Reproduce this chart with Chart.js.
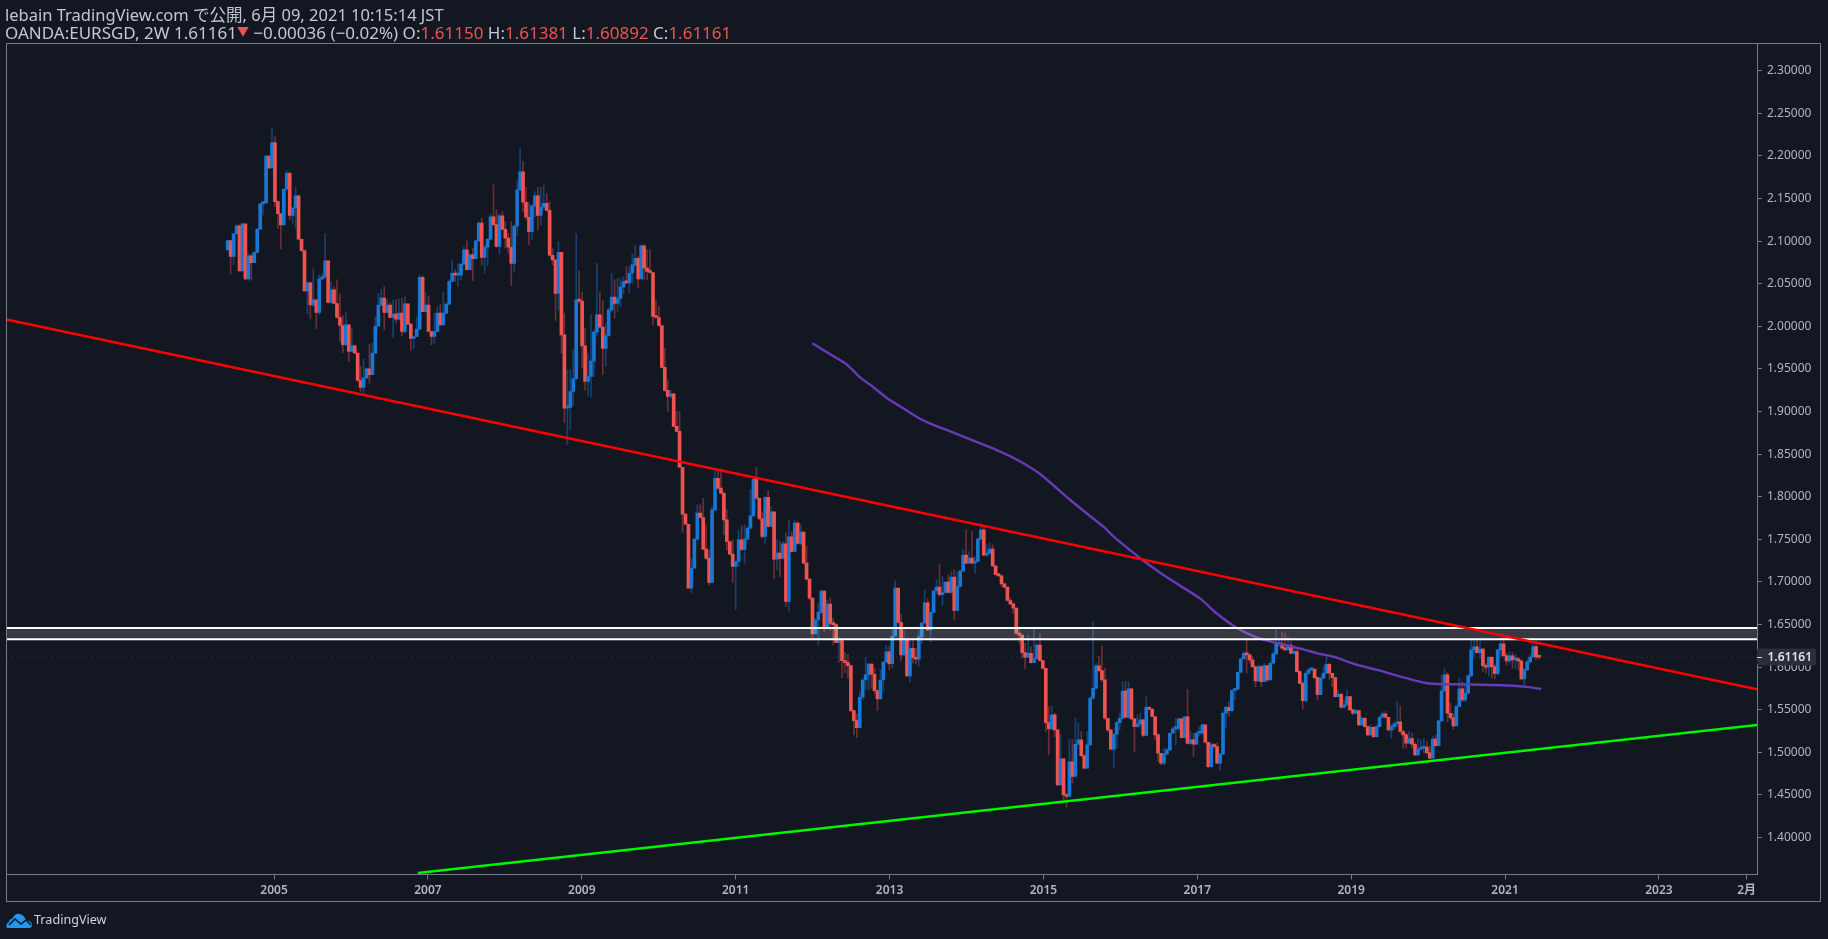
<!DOCTYPE html>
<html>
<head>
<meta charset="utf-8">
<title>EURSGD</title>
<script src="https://cdn.jsdelivr.net/npm/chart.js@4/dist/chart.umd.min.js"></script>
<style>
html, body { margin: 0; padding: 0; background: #131722; overflow: hidden; }
#wrap { position: relative; width: 1828px; height: 939px; font-family: "Noto Sans", "Noto Sans CJK JP", sans-serif; }
canvas { position: absolute; left: 0; top: 0; }
.head { position: absolute; left: 5px; color: #c4c7cf; line-height: 18px; white-space: nowrap; }
.head .r { color: #ef5350; }
.head .tri { color: #ef5350; font-size: 12px; vertical-align: 3px; }
#logo { position: absolute; left: 6px; top: 912px; }
#brand { position: absolute; left: 34px; top: 910px; color: #d1d4dc; font-size: 12.6px; line-height: 20px; }
</style>
</head>
<body>
<div id="wrap">
  <canvas id="fxChart" width="1828" height="939"></canvas>
  <div class="head" style="top:6px;font-size:16.5px">lebain TradingView.com で公開, 6月 09, 2021 10:15:14 JST</div>
  <div class="head" style="top:23px;font-size:17px">OANDA:EURSGD, 2W 1.61161<span class="tri">▼</span> −0.00036 (−0.02%) O:<span class="r">1.61150</span> H:<span class="r">1.61381</span> L:<span class="r">1.60892</span> C:<span class="r">1.61161</span></div>
  <svg id="logo" width="27" height="17" viewBox="0 0 27 17">
    <path d="M1 16 Q-1 12 3 10 Q3 7 6 7 Q9 1 14 2 Q18 3 20 8 Q26 9 26 13 Q26 16 23 16 Z" fill="#2196f3"/>
    <path d="M3 13 L9 7 L15 12 L20 8 L25 13" fill="none" stroke="#131722" stroke-width="1.6"/>
  </svg>
  <div id="brand">TradingView</div>
</div>
<script>
const firstOpen = 2.0897;
const firstYear = 2004.398;
const barsPerYear = 26.05;

const closes = [
  2.1006,2.0819,2.1084,2.1178,2.0651,2.1202,2.0557,2.0826,2.0748,2.0866,
  2.1139,2.1436,2.1452,2.1999,2.1859,2.2156,2.1464,2.1323,2.1190,2.1608,
  2.1796,2.1300,2.1386,2.1530,2.1022,2.0889,2.0416,2.0510,2.0252,2.0310,
  2.0162,2.0557,2.0576,2.0768,2.0279,2.0428,2.0267,2.0103,2.0009,1.9783,
  2.0017,1.9704,1.9771,1.9685,1.9364,1.9282,1.9391,1.9501,1.9431,1.9685,
  2.0000,2.0248,2.0330,2.0162,2.0248,2.0103,2.0142,2.0084,2.0154,1.9939,
  2.0263,2.0025,1.9857,1.9880,1.9966,2.0576,2.0173,2.0248,1.9939,1.9880,
  1.9939,2.0154,2.0017,2.0154,2.0260,2.0529,2.0623,2.0600,2.0600,
  2.0729,2.0897,2.0666,2.0838,2.0795,2.1002,2.1210,2.0807,2.0928,2.1022,
  2.1284,2.1194,2.0936,2.1296,2.1139,2.1034,2.0928,2.0737,2.1174,2.1601,
  2.1812,2.1456,2.1280,2.1112,2.1413,2.1530,2.1300,2.1397,2.1444,2.1362,
  2.0834,2.0779,2.0385,2.0869,1.9900,1.9040,1.9047,1.9235,1.9384,2.0310,
  2.0295,1.9771,1.9352,1.9411,1.9591,1.9931,2.0134,1.9990,1.9740,1.9892,
  2.0193,2.0342,2.0267,2.0326,2.0459,2.0521,2.0510,2.0623,2.0721,2.0799,
  2.0557,2.0944,2.0682,2.0643,2.0631,2.0115,2.0103,2.0009,1.9517,1.9247,
  1.9176,1.9208,1.8825,1.8766,1.8346,1.7795,1.7677,1.6927,1.7161,1.7502,1.7807,
  1.7756,1.7384,1.7279,1.6993,1.7846,1.8217,1.8100,1.8041,1.7728,1.7474,
  1.7326,1.7181,1.7240,1.7494,1.7380,1.7502,1.7631,1.7775,1.8205,1.7982,
  1.7744,1.7533,1.7994,1.7650,1.7822,1.7267,1.7337,1.7275,1.7447,1.6770,
  1.7529,1.7357,1.7689,1.7451,1.7584,1.7220,1.7032,1.6810,1.6389,1.6553,
  1.6643,1.6893,1.6475,1.6741,1.6514,1.6498,1.6287,1.6311,1.6076,1.6053,
  1.6017,1.5490,1.5372,1.5290,1.5646,1.5849,1.5908,1.6037,1.5916,1.5724,
  1.5627,1.5849,1.6060,1.6178,1.6041,1.6365,1.6928,1.6526,1.6143,1.6319,
  1.5896,1.6221,1.6111,1.6092,1.6354,1.6518,1.6753,1.6436,1.6643,1.6893,
  1.6938,1.6849,1.6876,1.6997,1.6876,1.7056,1.6665,1.6946,1.7126,1.7314,
  1.7220,1.7279,1.7220,1.7240,1.7502,1.7611,1.7314,1.7337,1.7384,1.7189,
  1.7087,1.7071,1.6977,1.6938,1.6782,1.6743,1.6692,1.6397,1.6377,1.6170,
  1.6116,1.6162,1.6053,1.6100,1.6260,1.6077,1.5986,1.5349,1.5275,1.5439,
  1.5263,1.4618,1.4923,1.4501,1.4481,1.4888,1.4716,1.5095,1.5146,1.4962,
  1.4813,1.5087,1.5635,1.5752,1.6014,1.5959,1.5850,1.5400,1.5263,1.5036,
  1.5212,1.5349,1.5400,1.5720,1.5412,1.5744,1.5392,1.5302,1.5334,1.5380,
  1.5197,1.5529,1.5505,1.5420,1.5205,1.4989,1.4872,1.4982,1.5029,1.5224,
  1.5275,1.5279,1.5392,1.5173,1.5416,1.5103,1.5146,1.5095,1.5224,1.5224,
  1.5322,1.5118,1.4833,1.5087,1.5068,1.4872,1.4982,1.5459,1.5529,1.5490,
  1.5725,1.5740,1.5940,1.6096,1.6162,1.6143,1.6084,1.6006,1.5838,1.6006,
  1.5830,1.6018,1.5850,1.6045,1.6155,1.6268,1.6276,1.6221,1.6202,1.6260,
  1.6162,1.6182,1.5947,1.5810,1.5607,1.5928,1.5967,1.5975,1.5877,1.5678,
  1.5869,1.5928,1.6033,1.5928,1.5877,1.5654,1.5681,1.5529,1.5556,1.5654,
  1.5498,1.5459,1.5490,1.5322,1.5400,1.5302,1.5205,1.5294,1.5185,1.5302,
  1.5412,1.5451,1.5412,1.5263,1.5302,1.5334,1.5357,1.5244,1.5205,1.5107,
  1.5161,1.5095,1.4970,1.5036,1.5048,1.5060,1.4997,1.4931,1.5154,1.5079,
  1.5369,1.5721,1.5908,1.5459,1.5408,1.5310,1.5537,1.5744,1.5615,1.5693,
  1.5897,1.6202,1.6237,1.6170,1.6213,1.6018,1.5998,1.6116,1.6006,1.5924,
  1.6202,1.6272,1.6135,1.6073,1.6131,1.6084,1.6092,1.6073,1.5861,1.5967,
  1.6061,1.6119,1.6241,1.6120,1.6116
];

const highs = [
  2.1006,2.1006,2.1084,2.1190,2.1190,2.1202,2.1202,2.0850,2.0850,2.0877,
  2.1151,2.1444,2.1464,2.2007,2.1999,2.2336,2.2234,2.1476,2.1327,2.1616,
  2.1827,2.1816,2.1397,2.1632,2.1530,2.1022,2.0897,2.0518,2.0518,2.0674,
  2.0310,2.0604,2.0623,2.1092,2.0768,2.0525,2.0467,2.0545,2.0377,2.0123,
  2.0174,2.0017,1.9978,1.9782,1.9685,1.9528,1.9614,1.9509,1.9790,1.9802,
  2.0107,2.0388,2.0439,2.0467,2.0310,2.0271,2.0310,2.0310,2.0322,2.0330,
  2.0349,2.0263,2.0037,1.9880,2.0107,2.0604,2.0596,2.0400,2.0357,1.9939,
  2.0154,2.0232,2.0252,2.0400,2.0271,2.0545,2.0780,2.0662,2.0733,
  2.0729,2.0936,2.1006,2.0850,2.0916,2.1014,2.1229,2.1268,2.0955,2.1034,
  2.1319,2.1659,2.1366,2.1319,2.1346,2.1229,2.1092,2.1229,2.1190,2.1706,
  2.2082,2.1933,2.1632,2.1452,2.1425,2.1581,2.1632,2.1632,2.1659,2.1561,
  2.1464,2.0916,2.0779,2.0995,2.0869,2.0154,1.9489,1.9489,1.9724,2.1085,
  2.0650,2.0400,1.9978,1.9685,2.0134,1.9958,2.0740,2.0408,2.0299,2.0037,
  2.0213,2.0623,2.0545,2.0564,2.0564,2.0584,2.0701,2.0701,2.0850,2.0955,
  2.0819,2.0955,2.0955,2.0897,2.0897,2.0631,2.0310,2.0232,2.0009,1.9743,
  1.9372,1.9255,1.9208,1.9001,1.8999,1.8346,1.7799,1.7677,1.7279,1.7513,1.7904,
  1.7904,1.7982,1.7670,1.7376,1.7885,1.8323,1.8315,1.8323,1.8061,1.7846,
  1.7474,1.7494,1.7240,1.7611,1.7658,1.7670,1.7650,1.8088,1.8217,1.8346,
  1.7982,1.7826,1.8002,1.8072,1.7885,1.7822,1.7494,1.7474,1.7474,1.7580,
  1.7728,1.7591,1.7728,1.7709,1.7670,1.7584,1.7416,1.7032,1.6810,1.6573,
  1.6749,1.6905,1.6893,1.6788,1.6819,1.6573,1.6514,1.6319,1.6311,1.6174,
  1.6150,1.6025,1.5497,1.5450,1.5712,1.5869,1.6115,1.6045,1.6037,1.5986,
  1.5732,1.5967,1.6064,1.6260,1.6248,1.6444,1.7013,1.6928,1.6623,1.6436,
  1.6319,1.6319,1.6311,1.6221,1.6428,1.6526,1.6905,1.6800,1.6651,1.6905,
  1.7020,1.7212,1.7063,1.7005,1.7083,1.7122,1.7142,1.7122,1.7142,1.7376,
  1.7611,1.7357,1.7592,1.7298,1.7513,1.7681,1.7650,1.7435,1.7455,1.7435,
  1.7189,1.7103,1.7083,1.6986,1.6938,1.6810,1.6751,1.6692,1.6456,1.6377,
  1.6280,1.6377,1.6241,1.6444,1.6280,1.6397,1.6077,1.5986,1.5537,1.5545,
  1.5459,1.5263,1.5204,1.4923,1.4520,1.5154,1.5146,1.5400,1.5349,1.5244,
  1.4970,1.5244,1.5654,1.6534,1.6045,1.6123,1.6248,1.5986,1.5400,1.5263,
  1.5224,1.5361,1.5459,1.5830,1.5830,1.5830,1.5744,1.5400,1.5439,1.5459,
  1.5380,1.5654,1.5537,1.5517,1.5420,1.5224,1.4989,1.5048,1.5048,1.5232,
  1.5302,1.5400,1.5400,1.5400,1.5420,1.5732,1.5244,1.5224,1.5244,1.5302,
  1.5334,1.5322,1.5118,1.5107,1.5107,1.5107,1.4989,1.5478,1.5545,1.5595,
  1.5732,1.5752,1.5947,1.6104,1.6182,1.6319,1.6162,1.6123,1.6006,1.6026,
  1.6018,1.6045,1.6018,1.6065,1.6170,1.6444,1.6319,1.6417,1.6397,1.6358,
  1.6299,1.6241,1.6202,1.5959,1.5830,1.5947,1.5986,1.5994,1.5986,1.5889,
  1.5889,1.6006,1.6123,1.6045,1.5928,1.5877,1.5732,1.5693,1.5615,1.5732,
  1.5654,1.5505,1.5505,1.5490,1.5420,1.5412,1.5310,1.5322,1.5302,1.5322,
  1.5428,1.5478,1.5478,1.5412,1.5322,1.5361,1.5595,1.5545,1.5263,1.5224,
  1.5244,1.5224,1.5114,1.5165,1.5146,1.5165,1.5126,1.5068,1.5185,1.5204,
  1.5380,1.5908,1.5979,1.5936,1.5576,1.5459,1.5556,1.5869,1.5830,1.5811,
  1.5908,1.6311,1.6319,1.6319,1.6311,1.6221,1.6045,1.6123,1.6123,1.6026,
  1.6209,1.6299,1.6346,1.6162,1.6182,1.6170,1.6143,1.6115,1.6084,1.5986,
  1.6084,1.6143,1.6299,1.6299,1.6138
];

const lows = [
  2.0897,2.0615,2.0721,2.1084,2.0651,2.0651,2.0545,2.0537,2.0545,2.0780,
  2.0858,2.1139,2.1307,2.1436,2.1851,2.1855,2.1405,2.1151,2.0908,2.1190,
  2.1601,2.1249,2.1210,2.1151,2.1014,2.0877,2.0408,2.0146,2.0087,2.0232,
  1.9974,2.0134,2.0545,2.0564,2.0271,2.0271,2.0260,2.0095,1.9822,1.9693,
  1.9775,1.9587,1.9696,1.9685,1.9352,1.9235,1.9196,1.9391,1.9333,1.9431,
  1.9685,2.0000,2.0232,1.9958,2.0154,2.0095,1.9868,2.0037,2.0076,1.9888,
  1.9919,2.0017,1.9716,1.9739,1.9880,1.9958,2.0173,2.0162,1.9939,1.9782,
  1.9794,1.9939,2.0005,2.0017,2.0146,2.0252,2.0521,2.0525,2.0467,
  2.0545,2.0721,2.0662,2.0662,2.0537,2.0791,2.0995,2.0721,2.0623,2.0709,
  2.1014,2.1186,2.0928,2.0850,2.1131,2.0916,2.0858,2.0478,2.0643,2.1065,
  2.1601,2.1346,2.1249,2.0955,2.1022,2.1288,2.1131,2.1190,2.1366,2.1346,
  2.0819,2.0721,2.0068,2.0193,1.9685,1.8871,1.8610,1.8785,1.9067,1.9372,
  2.0271,1.9509,1.9247,1.9184,1.9169,1.9411,1.9880,1.9978,1.9431,1.9528,
  1.9880,2.0173,2.0095,2.0173,2.0232,2.0381,2.0506,2.0389,2.0506,2.0701,
  2.0447,2.0553,2.0545,2.0545,2.0623,2.0017,2.0095,1.9998,1.9509,1.9235,
  1.9001,1.9157,1.8825,1.8766,1.8346,1.7580,1.7674,1.6927,1.6868,1.7161,1.7494,
  1.7748,1.7376,1.7259,1.6966,1.6985,1.7838,1.8088,1.8033,1.7552,1.7376,
  1.7318,1.6993,1.6673,1.7181,1.7368,1.7220,1.7494,1.7619,1.7767,1.7971,
  1.7728,1.7513,1.7455,1.7642,1.7650,1.7036,1.7142,1.7064,1.7267,1.6712,
  1.6653,1.7345,1.7357,1.7443,1.7435,1.7208,1.7025,1.6790,1.6338,1.6389,
  1.6260,1.6631,1.6416,1.6467,1.6428,1.6260,1.6287,1.6053,1.5877,1.5935,
  1.5869,1.5478,1.5204,1.5173,1.5282,1.5615,1.5732,1.5732,1.5752,1.5685,
  1.5490,1.5623,1.5720,1.6053,1.5967,1.5986,1.6358,1.6514,1.6072,1.6131,
  1.5888,1.5830,1.6045,1.6037,1.6014,1.6272,1.6514,1.6428,1.6299,1.6639,
  1.6868,1.6829,1.6720,1.6868,1.6868,1.6868,1.6555,1.6653,1.6938,1.7122,
  1.7212,1.7220,1.7212,1.7103,1.7240,1.7494,1.7306,1.7306,1.7329,1.7181,
  1.7079,1.7063,1.6946,1.6927,1.6770,1.6730,1.6634,1.6377,1.6280,1.6104,
  1.5986,1.6116,1.6045,1.6053,1.6092,1.6069,1.5975,1.5244,1.4970,1.5271,
  1.5185,1.4610,1.4618,1.4442,1.4356,1.4481,1.4637,1.4704,1.5087,1.4950,
  1.4806,1.4813,1.5079,1.5623,1.5744,1.5947,1.5830,1.5380,1.5244,1.5029,
  1.4814,1.5048,1.5263,1.5388,1.5400,1.5400,1.5380,1.5009,1.5294,1.5302,
  1.5185,1.5193,1.5498,1.5412,1.5146,1.4892,1.4853,1.4853,1.4970,1.5021,
  1.5224,1.5087,1.5255,1.5165,1.5165,1.5095,1.5095,1.4950,1.5095,1.5193,
  1.5216,1.5107,1.4821,1.4821,1.5048,1.4864,1.4794,1.4970,1.5283,1.5420,
  1.5478,1.5615,1.5732,1.5928,1.6092,1.5928,1.6045,1.5994,1.5771,1.5830,
  1.5771,1.5830,1.5830,1.5850,1.6037,1.6143,1.6240,1.6202,1.6194,1.6202,
  1.6155,1.6155,1.5939,1.5803,1.5505,1.5595,1.5920,1.5959,1.5865,1.5615,
  1.5674,1.5861,1.5920,1.5857,1.5771,1.5646,1.5646,1.5517,1.5517,1.5549,
  1.5490,1.5439,1.5451,1.5310,1.5318,1.5294,1.5193,1.5197,1.5173,1.5177,
  1.5294,1.5404,1.5400,1.5255,1.5165,1.5263,1.5302,1.5224,1.5048,1.5048,
  1.5099,1.5048,1.4962,1.4962,1.5029,1.4990,1.4982,1.4919,1.4931,1.5068,
  1.5075,1.5361,1.5713,1.5361,1.5380,1.5271,1.5310,1.5537,1.5595,1.5595,
  1.5685,1.5889,1.6104,1.6163,1.6104,1.5947,1.5928,1.5897,1.5869,1.5861,
  1.5908,1.6123,1.6123,1.6026,1.6045,1.5986,1.5986,1.5967,1.5850,1.5764,
  1.5959,1.6045,1.6116,1.6084,1.6089
];

const maYears = [
  2011.996,2012.23,2012.425,2012.51,2012.62,2012.79,2012.97,2013.14,2013.36,2013.57,
  2013.83,2014.09,2014.44,2014.70,2014.96,2015.35,2015.59,2015.78,2015.94,2016.125,
  2016.30,2016.645,2017.035,2017.25,2017.51,2017.77,2018.075,2018.38,2018.56,2018.77,
  2019.08,2019.34,2019.64,2019.99,2020.25,2020.42,2020.94,2021.25,2021.47
];
const maValues = [
  1.9801,1.9672,1.9566,1.9496,1.9398,1.9285,1.9155,1.9058,1.8933,1.8843,
  1.8753,1.8659,1.8530,1.8413,1.8264,1.7961,1.7785,1.7648,1.7511,1.7374,
  1.7249,1.7030,1.6807,1.6632,1.6463,1.6350,1.6272,1.6209,1.6162,1.6123,
  1.6026,1.5967,1.5889,1.5810,1.5799,1.5799,1.5787,1.5771,1.5744
];

const xMin = 2001.523;
const xMax = 2024.275;
const yMin = 1.3566;
const yMax = 2.3319;

const redTrend = [2.008, 1.574];
const greenTrend = [1.3583, 1.532];
const greenStart = 2006.87;
const zoneTop = 1.6459;
const zoneBottom = 1.6327;
const lastPrice = 1.61161;

const priceTicks = [1.40,1.45,1.50,1.55,1.60,1.65,1.70,1.75,1.80,1.85,1.90,1.95,2.00,2.05,2.10,2.15,2.20,2.25,2.30];
const yearTicks = [2005,2007,2009,2011,2013,2015,2017,2019,2021,2023,2024.14];
const yearLabels = ['2005','2007','2009','2011','2013','2015','2017','2019','2021','2023','2月'];

const UP = '#1976d2', DOWN = '#ef5350';
const UP_WICK = 'rgba(25,118,210,0.45)', DOWN_WICK = 'rgba(239,83,80,0.4)';
const AXIS = '#787b86', LABEL = '#b2b5be';
const FONT = '"Noto Sans", "Noto Sans CJK JP", sans-serif';

const yearOf = i => firstYear + i / barsPerYear;
const opens = closes.map((c, i) => i === 0 ? firstOpen : closes[i - 1]);
const isUp = closes.map((c, i) => c >= opens[i]);

// the frame around the chart and the last price tag on the axis
const overlay = {
  id: 'overlay',
  afterDraw(chart) {
    const { ctx, scales } = chart;
    const right = scales.y.left;
    const py = Math.round(scales.y.getPixelForValue(lastPrice));
    ctx.save();
    ctx.strokeStyle = AXIS;
    ctx.lineWidth = 1;
    ctx.strokeRect(6.5, 43.5, 1814, 858);
    ctx.fillStyle = '#2a2e39';
    ctx.beginPath();
    ctx.roundRect(right, py - 8.5, 59, 17, 2);
    ctx.fill();
    ctx.strokeStyle = '#d1d4dc';
    ctx.beginPath();
    ctx.moveTo(right, py + 0.5);
    ctx.lineTo(right + 5, py + 0.5);
    ctx.stroke();
    ctx.fillStyle = '#e0e3eb';
    ctx.font = '600 12px ' + FONT;
    ctx.textBaseline = 'middle';
    ctx.fillText(lastPrice.toFixed(5), right + 10.5, py + 0.5);
    ctx.restore();
  }
};

const ctx = document.getElementById('fxChart').getContext('2d');
new Chart(ctx, {
  type: 'bar',
  data: {
    datasets: [
      {
        type: 'line', label: 'zone top', order: 2,
        data: [{ x: xMin, y: zoneTop }, { x: xMax, y: zoneTop }],
        borderColor: '#ffffff', borderWidth: 2.2, pointRadius: 0,
        fill: '+1', backgroundColor: 'rgba(255,255,255,0.15)'
      },
      {
        type: 'line', label: 'zone bottom', order: 2,
        data: [{ x: xMin, y: zoneBottom }, { x: xMax, y: zoneBottom }],
        borderColor: '#ffffff', borderWidth: 2.2, pointRadius: 0
      },
      {
        type: 'line', label: 'resistance', order: 1,
        data: [{ x: xMin, y: redTrend[0] }, { x: xMax, y: redTrend[1] }],
        borderColor: '#ff0000', borderWidth: 2.4, pointRadius: 0
      },
      {
        type: 'line', label: 'support', order: 1,
        data: [{ x: greenStart, y: greenTrend[0] }, { x: xMax, y: greenTrend[1] }],
        borderColor: '#00f500', borderWidth: 2.4, pointRadius: 0
      },
      {
        type: 'line', label: 'MA', order: 3,
        data: maYears.map((x, i) => ({ x: x, y: maValues[i] })),
        borderColor: '#673ab7', borderWidth: 2.4, pointRadius: 0, tension: 0.2
      },
      {
        type: 'line', label: 'last', order: 4,
        data: [{ x: xMin, y: lastPrice }, { x: xMax, y: lastPrice }],
        borderColor: 'rgba(120,123,134,0.45)', borderWidth: 1, borderDash: [1, 4], pointRadius: 0
      },
      {
        label: 'EURSGD body', order: 5, barThickness: 3, grouped: false, minBarLength: 2,
        data: closes.map((c, i) => ({ x: yearOf(i), y: [opens[i], c] })),
        backgroundColor: isUp.map(u => u ? UP : DOWN)
      },
      {
        label: 'EURSGD wick', order: 6, barThickness: 1, grouped: false,
        data: closes.map((c, i) => ({ x: yearOf(i), y: [lows[i], highs[i]] })),
        backgroundColor: isUp.map(u => u ? UP_WICK : DOWN_WICK)
      }
    ]
  },
  options: {
    responsive: false,
    animation: false,
    devicePixelRatio: 1,
    layout: { padding: { left: 6.5, top: 43.5, right: 7, bottom: 37 } },
    plugins: { legend: { display: false }, tooltip: { enabled: false } },
    scales: {
      x: {
        type: 'linear', min: xMin, max: xMax, offset: false,
        grid: { display: true, offset: false, drawOnChartArea: false, tickLength: 5, tickColor: AXIS },
        border: { display: true, color: AXIS },
        ticks: {
          autoSkip: false, maxRotation: 0, padding: 4, color: LABEL,
          font: { family: FONT, size: 12, weight: '600' },
          callback: v => yearLabels[yearTicks.indexOf(v)]
        },
        afterBuildTicks: s => { s.ticks = yearTicks.map(v => ({ value: v })); },
        afterFit: s => { s.height = 27.5; }
      },
      y: {
        type: 'linear', position: 'right', min: yMin, max: yMax, beginAtZero: false,
        grid: { display: true, drawOnChartArea: false, tickLength: 5, tickColor: AXIS },
        border: { display: true, color: AXIS },
        ticks: {
          autoSkip: false, padding: 5, color: LABEL,
          font: { family: FONT, size: 12 },
          callback: v => v.toFixed(5)
        },
        afterBuildTicks: s => { s.ticks = priceTicks.map(v => ({ value: v })); },
        afterFit: s => { s.width = 64; }
      }
    }
  },
  plugins: [overlay]
});
</script>
</body>
</html>
